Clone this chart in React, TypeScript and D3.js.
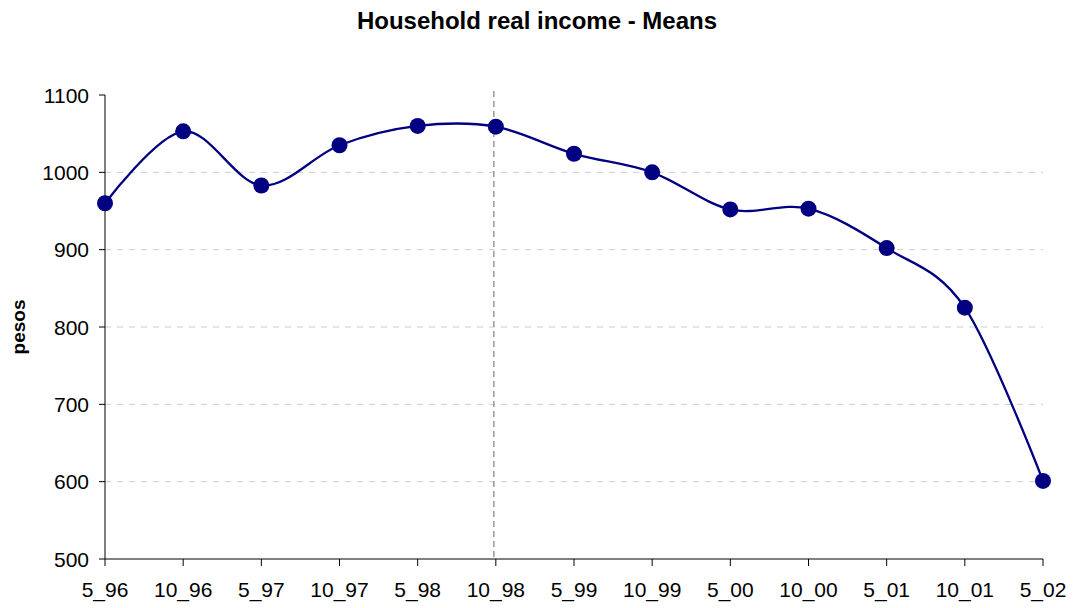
import * as d3 from "d3";

// Household real income, means (pesos)
const periods = ["5_96", "10_96", "5_97", "10_97", "5_98", "10_98", "5_99", "10_99", "5_00", "10_00", "5_01", "10_01", "5_02"];
const means = [960, 1053, 983, 1035, 1060, 1059, 1024, 1000, 952, 953, 902, 825, 601];
const yTicks = [500, 600, 700, 800, 900, 1000, 1100];
const gridTicks = [600, 700, 800, 900, 1000];
const markerPeriod = "10_98";

const W = 1073;
const H = 608;
const M = { top: 95, right: 30, bottom: 49, left: 105 };
const FONT = "Arial, 'Liberation Sans', sans-serif";
const NAVY = "#000080";

export default function App() {
  const x = d3
    .scalePoint<string>()
    .domain(periods)
    .range([M.left, W - M.right]);
  const y = d3.scaleLinear().domain([500, 1100]).range([H - M.bottom, M.top]);

  const line = d3
    .line<number>()
    .x((_d, i) => x(periods[i]) as number)
    .y((d) => y(d))
    .curve(d3.curveCardinal.tension(0));

  const x0 = M.left;
  const x1 = W - M.right;
  const yBase = y(500);
  const label = { fontFamily: FONT, fontSize: "21px" };

  return (
    <svg
      width={W}
      height={H}
      style={{ position: "absolute", left: 0, top: 0, background: "#fff" }}
    >
      <text
        x={537}
        y={29}
        textAnchor="middle"
        style={{ fontFamily: FONT, fontSize: "24px", fontWeight: "bold" }}
      >
        Household real income - Means
      </text>

      {/* gridlines */}
      {gridTicks.map((t) => (
        <line
          key={t}
          x1={x0}
          x2={x1}
          y1={y(t)}
          y2={y(t)}
          stroke="#cccccc"
          strokeWidth={1}
          strokeDasharray="6,6"
        />
      ))}

      {/* marker line */}
      <line
        x1={(x(markerPeriod) as number) - 2}
        x2={(x(markerPeriod) as number) - 2}
        y1={M.top - 4}
        y2={yBase}
        stroke="#999999"
        strokeWidth={1.5}
        strokeDasharray="6,4"
      />

      {/* y axis */}
      <line x1={x0} x2={x0} y1={M.top} y2={yBase} stroke="#000" strokeWidth={1} />
      {yTicks.map((t) => (
        <g key={t}>
          <line x1={x0 - 6} x2={x0} y1={y(t)} y2={y(t)} stroke="#000" />
          <text x={x0 - 16} y={y(t)} dy="0.36em" textAnchor="end" style={label}>
            {t}
          </text>
        </g>
      ))}

      {/* x axis */}
      <line x1={x0} x2={x1} y1={yBase} y2={yBase} stroke="#000" strokeWidth={1} />
      {periods.map((p) => (
        <g key={p}>
          <line x1={x(p)} x2={x(p)} y1={yBase} y2={yBase + 7} stroke="#000" />
          <text x={x(p)} y={yBase + 38} textAnchor="middle" style={label}>
            {p}
          </text>
        </g>
      ))}

      <text
        transform={`translate(25,${(M.top + yBase) / 2}) rotate(-90)`}
        textAnchor="middle"
        style={{ fontFamily: FONT, fontSize: "19px", fontWeight: "bold" }}
      >
        pesos
      </text>

      <path d={line(means) ?? ""} fill="none" stroke={NAVY} strokeWidth={2.3} />
      {means.map((v, i) => (
        <circle key={periods[i]} cx={x(periods[i])} cy={y(v)} r={8} fill={NAVY} />
      ))}
    </svg>
  );
}
